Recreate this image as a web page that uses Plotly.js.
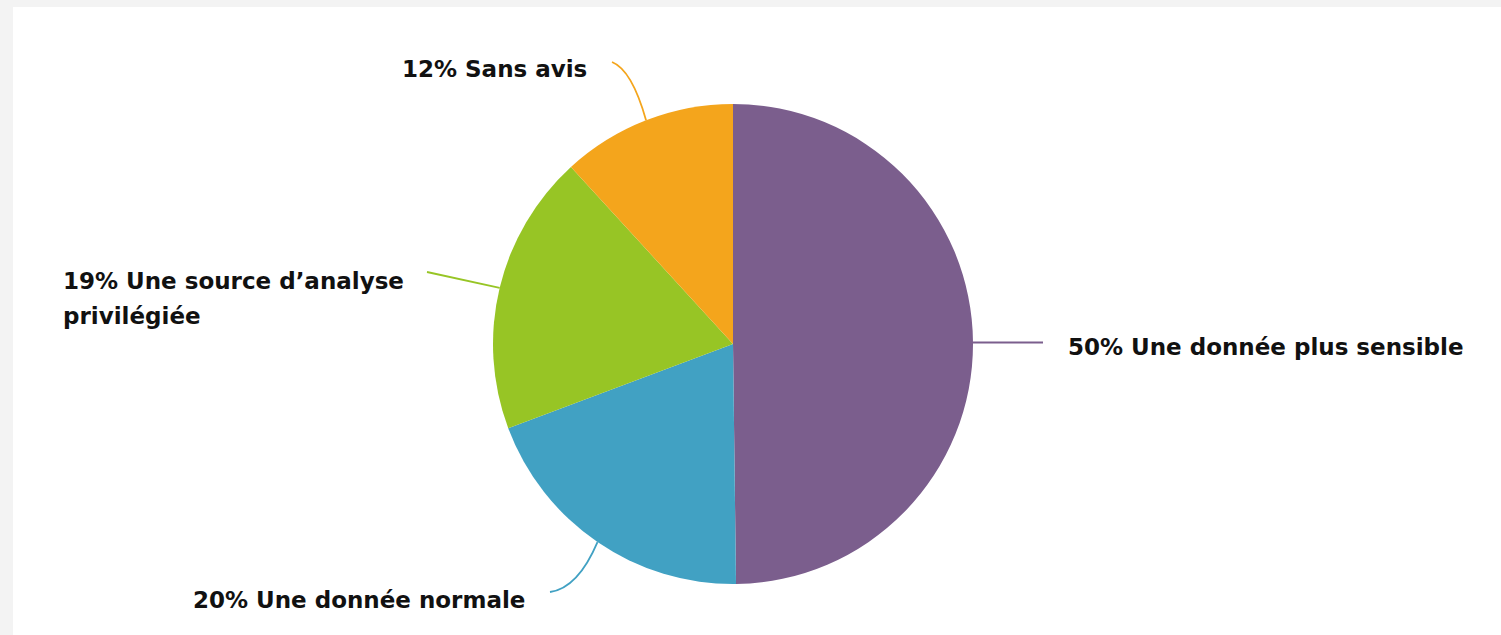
<!DOCTYPE html>
<html>
<head>
<meta charset="utf-8">
<script src="https://cdn.plot.ly/plotly-3.0.1.min.js"></script>
<style>html,body{margin:0;padding:0;background:#f3f3f3;}#chart{width:1501px;height:635px;}</style>
</head>
<body>
<div id="chart"></div>
<script>
// ---- data ----
const labels = ['Une donnée plus sensible', 'Une donnée normale', 'Une source d’analyse<br>privilégiée', 'Sans avis'];
const values = [49.8, 19.5, 18.9, 11.8];
const pctText = ['50%', '20%', '19%', '12%'];
const colors = ['#7b5e8d', '#41a1c3', '#97c525', '#f4a51c'];

// ---- layout geometry (pixels) ----
const W = 1501, H = 635;
const cx = 733, cy = 344, R = 240;
// label placement and leader-line end / control points
const place = [
  {x: 1066, y: 347, ex: 1043, ey: 344, qx: 1008, qy: 344},
  {x: 191,  y: 600, ex: 550,  ey: 592, qx: 578,  qy: 588},
  {x: 61,   y: 281, ex: 427,  ey: 272, qx: 463,  qy: 280},
  {x: 400,  y: 69,  ex: 612,  ey: 62,  qx: 632,  qy: 70}
];

const total = values.reduce((a, b) => a + b, 0);
let cum = 0;
const annotations = [];
const shapes = [];
values.forEach((v, i) => {
  const mid = (cum + v / 2) / total * 2 * Math.PI; // clockwise from 12 o'clock
  cum += v;
  const sx = cx + R * Math.sin(mid);
  const sy = cy - R * Math.cos(mid);
  const p = place[i];
  const qy = (i === 0) ? sy : p.qy;
  const ey = (i === 0) ? sy : p.ey;
  shapes.push({
    type: 'path', xref: 'x', yref: 'y', layer: 'below',
    path: `M ${sx} ${sy} Q ${p.qx} ${qy} ${p.ex} ${ey}`,
    line: {color: colors[i], width: 1.8}
  });
  const lines = (pctText[i] + ' ' + labels[i]).split('<br>');
  lines.forEach((t, k) => {
    annotations.push({
      xref: 'x', yref: 'y', x: p.x, y: p.y + k * 35,
      xanchor: 'left', yanchor: 'middle', showarrow: false,
      text: '<b>' + t + '</b>',
      font: {family: 'DejaVu Sans, sans-serif', size: 23, color: '#111111'}
    });
  });
});

const trace = {
  type: 'pie',
  labels: labels.map(l => l.replace('<br>', ' ')),
  values: values,
  sort: false,
  direction: 'clockwise',
  rotation: 0,
  textinfo: 'none',
  hoverinfo: 'label+percent',
  marker: {colors: colors, line: {width: 0}},
  showlegend: false,
  domain: {x: [(cx - R) / W, (cx + R) / W], y: [1 - (cy + R) / H, 1 - (cy - R) / H]}
};

const layout = {
  width: W, height: H,
  margin: {l: 0, r: 0, t: 0, b: 0},
  paper_bgcolor: '#f3f3f3',
  plot_bgcolor: '#ffffff',
  xaxis: {domain: [13 / W, 1], range: [13, W], visible: false, fixedrange: true},
  yaxis: {domain: [0, 1 - 7 / H], range: [H, 7], visible: false, fixedrange: true},
  annotations: annotations,
  shapes: shapes,
  showlegend: false
};

Plotly.newPlot('chart', [trace], layout, {displayModeBar: false, staticPlot: true});
</script>
</body>
</html>
